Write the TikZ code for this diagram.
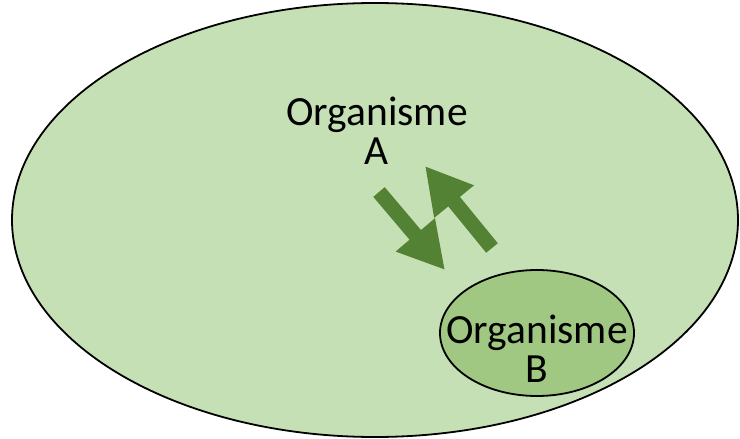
\documentclass[tikz,border=0pt]{standalone}
\usepackage{fontspec}
\setmainfont{Carlito}
\usetikzlibrary{shapes.geometric,arrows.meta}
\definecolor{habitat}{HTML}{C5E0B4}
\definecolor{hostfill}{HTML}{A0C883}
\definecolor{flow}{HTML}{548235}
\tikzset{
  zone/.style={ellipse, draw=black, line width=1.8pt, inner sep=0pt},
  label/.style={align=center, inner sep=0pt, font=\fontsize{41.5}{39}\selectfont},
  exchange/.style={draw=flow, line width=15pt,
    -{Triangle[width=48pt,length=46pt]}}
}
\begin{document}
\begin{tikzpicture}[x=1pt,y=-1pt]
  \useasboundingbox (0,0) rectangle (740,439);
  % surrounding environment and the smaller organism inside it
  \node[zone, fill=habitat, minimum width=726pt, minimum height=434pt] (env) at (375,220) {};
  \node[zone, fill=hostfill, minimum width=194pt, minimum height=126pt] (orgB) at (537,333) {};
  % names (base anchor sits on the last line)
  \node[label, anchor=base] (nameA) at (377,164) {Organisme\\A};
  \node[label, anchor=base] (nameB) at (537,382) {Organisme\\B};
  % two-way exchange
  \coordinate (downS) at (379,192);
  \coordinate (downT) at (445,270);
  \coordinate (upS) at (492,248);
  \coordinate (upT) at (425,166);
  \draw[exchange] (downS) -- (downT);
  \draw[exchange] (upS) -- (upT);
\end{tikzpicture}
\end{document}
